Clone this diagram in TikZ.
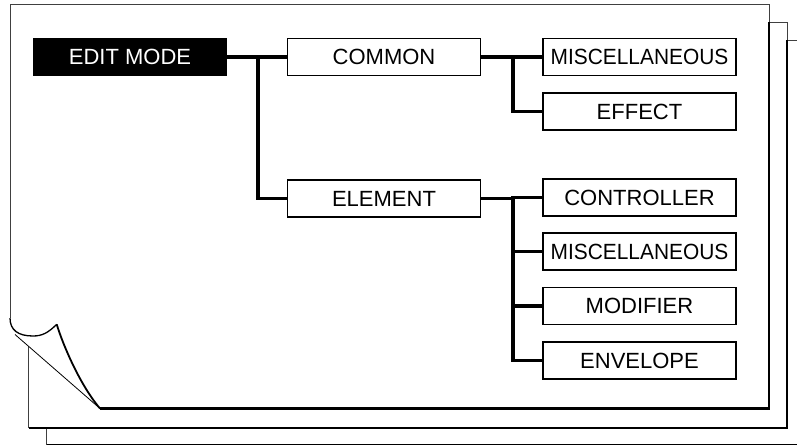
\documentclass[tikz,border=0pt]{standalone}
\usepackage{fontspec}
\setmainfont{Liberation Sans}
\newcommand{\narrowtxt}[1]{\scalebox{0.95}[1]{#1}}
\begin{document}
\begin{tikzpicture}[x=1pt,y=-1pt,
  box/.style={draw=black, line width=1.3pt, fill=white, minimum width=193pt, minimum height=37pt, inner sep=0pt, font=\fontsize{22}{26}\selectfont},
  headbox/.style={fill=black, text=white, minimum width=194pt, minimum height=38pt, inner sep=0pt, font=\fontsize{22}{26}\selectfont},
  conn/.style={line width=3.6pt, line cap=butt, line join=miter},
  thinedge/.style={draw=black!75, line width=0.9pt},
  thickedge/.style={draw=black, line width=2.2pt},
]
\useasboundingbox (0,0) rectangle (797,446);
% third page
\fill[white] (46.5,40.5) rectangle (805,444.5);
\draw[thinedge] (46.5,444.5) -- (46.5,40.5) -- (805,40.5);
\draw[draw=black, line width=1.6pt] (46.5,444.5) -- (805,444.5);
% second page
\fill[white] (28.5,22.5) rectangle (787,428);
\draw[thinedge] (28.5,428) -- (28.5,22.5) -- (787,22.5) -- (787,40);
\draw[thickedge] (787,40) -- (787,428) -- (28.5,428);
% front page
\fill[white] (10,4) -- (769,4) -- (769,408.5) -- (100,408.5)
  .. controls (80,385) and (63,345) .. (56.7,324.3)
  .. controls (48,333) and (42,336) .. (33,336)
  .. controls (18,336) and (10,330) .. (10,318) -- cycle;
% curled flap
\fill[white] (100,408.5) .. controls (80,385) and (63,345) .. (56.7,324.3)
  .. controls (48,333) and (42,336) .. (33,336)
  .. controls (18,336) and (10,330) .. (10,318) -- (15,334.5) -- cycle;
\draw[thinedge] (10,318) -- (10,4) -- (769,4) -- (769,22);
\draw[thickedge] (769,22) -- (769,408.5) -- (100,408.5);
\draw[draw=black, line width=1.8pt] (100,408.5) .. controls (80,385) and (63,345) .. (56.7,324.3);
\draw[draw=black, line width=1.3pt] (56.7,324.3) .. controls (48,333) and (42,336) .. (33,336)
  .. controls (18,336) and (10,330) .. (10,318);
\draw[draw=black, line width=0.8pt] (15,334.5) -- (100,408.5);
% nodes
\node[headbox] (edit) at (130,57) {EDIT MODE};
\node[box] (common) at (384,57) {COMMON};
\node[box] (element) at (384,198.5) {ELEMENT};
\node[box] (misc1) at (639.5,57) {\narrowtxt{MISCELLANEOUS}};
\node[box] (effect) at (639.5,111.5) {EFFECT};
\node[box] (ctrl) at (639.5,197.5) {CONTROLLER};
\node[box] (misc2) at (639.5,251.5) {\narrowtxt{MISCELLANEOUS}};
\node[box] (modif) at (639.5,306) {MODIFIER};
\node[box] (env) at (639.5,360.5) {ENVELOPE};
% junction columns
\coordinate (j1) at (258,0);
\coordinate (j2) at (513,0);
% connectors
\draw[conn] (edit.east) -- (common.west);
\draw[conn] (edit.east -| j1) |- (element.west);
\draw[conn] (common.east) -- (misc1.west);
\draw[conn] (common.east -| j2) |- (effect.west);
\draw[conn] (element.east) -- (element.east -| j2) |- (env.west);
\draw[conn] (element.east -| j2) |- (ctrl.west);
\draw[conn] (misc2.west -| j2) -- (misc2.west);
\draw[conn] (modif.west -| j2) -- (modif.west);
\end{tikzpicture}
\end{document}
